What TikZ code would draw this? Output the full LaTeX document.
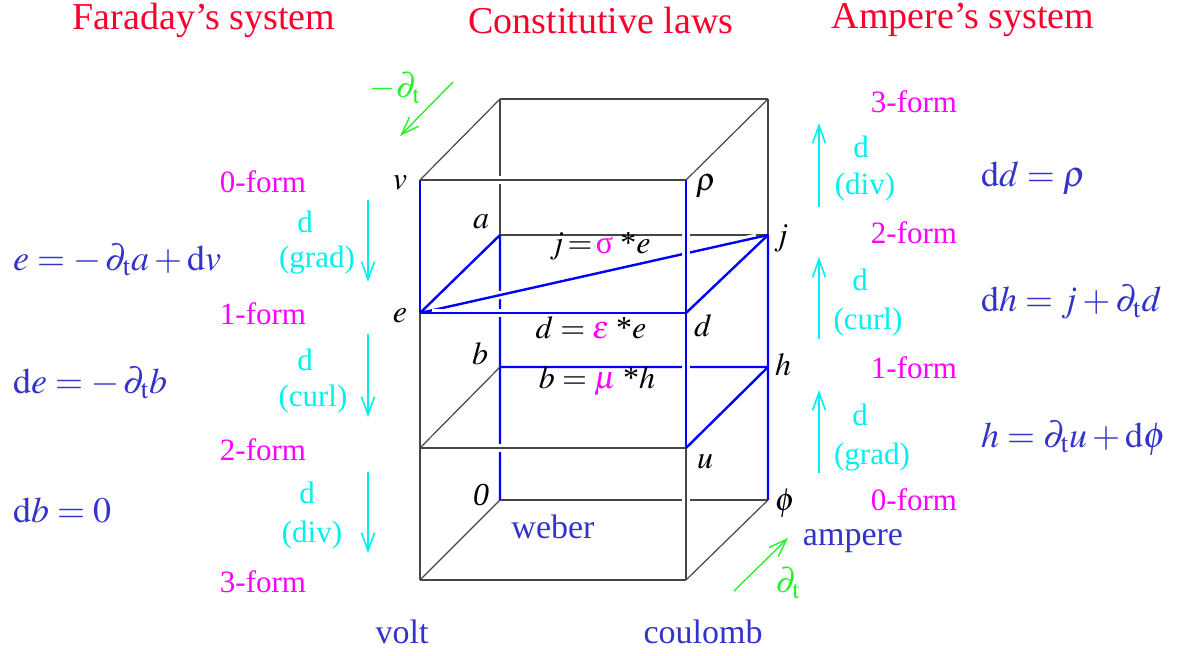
\documentclass[tikz,border=0pt]{standalone}
\usepackage{mathptmx}
\usepackage{fontspec}
\setmainfont{Liberation Serif}
\usetikzlibrary{arrows.meta}
\definecolor{eqblue}{RGB}{51,51,204}
\definecolor{lgreen}{RGB}{40,240,40}
\definecolor{edgegray}{RGB}{70,70,70}
\definecolor{titred}{RGB}{250,0,45}
\definecolor{opcyan}{RGB}{0,240,240}
\definecolor{formmag}{RGB}{255,0,255}
\newcommand{\pdt}{\partial_{\mathrm{t}}}

\begin{document}
\begin{tikzpicture}[x=0.5pt,y=-0.5pt,
    titulo/.style={text=titred,font=\fontsize{19}{22}\selectfont},
    forma/.style={text=formmag,font=\fontsize{15.5}{18}\selectfont},
    oper/.style={text=opcyan,font=\fontsize{15.5}{18}\selectfont},
    ecuacion/.style={text=eqblue,font=\fontsize{18}{21}\selectfont,anchor=west},
    unidad/.style={text=eqblue,font=\fontsize{17}{20}\selectfont},
    vertice/.style={font=\fontsize{16}{19}\selectfont},
    arista/.style={edgegray,line width=0.6pt},
    campo/.style={blue,line width=1.2pt},
    delante/.style={preaction={draw=white,line width=4pt,shorten <=6pt,shorten >=6pt}},
    flecha/.style={opcyan,line width=0.8pt,-{Straight Barb[length=9pt,width=6.5pt]}},
    tiempo/.style={lgreen,line width=0.7pt,-{Straight Barb[length=9pt,width=6.5pt]}}]
    \useasboundingbox (0,0) rectangle (1178,655);

    % corners of the box
    \coordinate (v) at (420,180);   \coordinate (rho) at (686,180);
    \coordinate (e) at (420,313);   \coordinate (d) at (686,313);
    \coordinate (fl) at (420,448);  \coordinate (u) at (686,448);
    \coordinate (fb) at (420,580);  \coordinate (rb) at (686,580);
    \coordinate (tl) at (500,99);   \coordinate (tr) at (768,99);
    \coordinate (a) at (500,235);   \coordinate (j) at (768,235);
    \coordinate (b) at (500,367);   \coordinate (h) at (768,367);
    \coordinate (o) at (500,500);   \coordinate (phi) at (768,500);

    % titles
    \node[titulo] (tfar) at (204,20) {Faraday’s system};
    \node[titulo] (tcon) at (601,20) {Constitutive laws};
    \node[titulo] (tamp) at (963,20) {Ampere’s system};

    % back edges
    \draw[arista] (tl) -- (tr) (tl) -- (a) (tr) -- (j) (a) -- (j) (o) -- (phi);
    \draw[arista] (v) -- (tl) (rho) -- (tr) (fl) -- (b) (fb) -- (o) (rb) -- (phi);
    \draw[campo] (a) -- (b) (b) -- (o) (b) -- (h) (j) -- (phi) (e) -- (a);
    \draw[campo,delante] (e) -- (j);
    % front edges
    \draw[campo] (v) -- (e);
    \draw[arista] (e) -- (fb) (fb) -- (rb);
    \draw[campo,delante] (rho) -- (u);
    \draw[arista,delante] (u) -- (rb);
    \draw[arista,delante] (v) -- (rho);
    \draw[campo,delante] (e) -- (d);
    \draw[arista,delante] (fl) -- (u);
    \draw[campo] (d) -- (j) (h) -- (u);

    % vertex labels
    \node[vertice] (lv) at (400,183) {$v$};
    \node[vertice] (lrho) at (706,186) {$\rho$};
    \node[vertice] (la) at (481,222) {$a$};
    \node[vertice] (lj) at (781,238) {$j$};
    \node[vertice] (le) at (400,316) {$e$};
    \node[vertice] (ld) at (703,326) {$d$};
    \node[vertice] (lb) at (480,354) {$b$};
    \node[vertice] (lh) at (783,365) {$h$};
    \node[vertice] (lu) at (705,462) {$u$};
    \node[vertice] (lo) at (481,495) {\textit{0}};
    \node[vertice] (lphi) at (785,503) {$\phi$};

    % constitutive laws
    \node[vertice] (sig) at (600,246) {$j\!=\!{\color{formmag}\mbox{σ}}\;\mbox{*}e$};
    \node[vertice] (eps) at (591,328) {$d = {\color{formmag}\varepsilon}\;\mbox{*}e$};
    \node[vertice] (mu) at (597,381) {$b = {\color{formmag}\mu}\;\mbox{*}h$};

    % units
    \node[unidad] (weber) at (553,527) {weber};
    \node[unidad] (volt) at (402,632) {volt};
    \node[unidad] (coulomb) at (703,632) {coulomb};
    \node[unidad] (ampere) at (853,541) {ampere};

    % time derivatives
    \coordinate (g1) at (453,82);  \coordinate (g2) at (400,136);
    \coordinate (g3) at (734,591); \coordinate (g4) at (788,538);
    \draw[tiempo] (g1) -- (g2);
    \draw[tiempo] (g3) -- (g4);
    \node[text=lgreen,font=\fontsize{17}{20}\selectfont] (mdt) at (395,88) {$-\pdt$};
    \node[text=lgreen,font=\fontsize{17}{20}\selectfont] (pdt) at (788,583) {$\pdt$};

    % Faraday side
    \foreach \y/\k in {182/0,314/1,450/2,582/3}
        \node[forma] (fl\k) at (263,\y) {\k-form};
    \coordinate (fa1) at (368,200); \coordinate (fb1) at (368,282);
    \coordinate (fa2) at (368,334); \coordinate (fb2) at (368,417);
    \coordinate (fa3) at (368,472); \coordinate (fb3) at (368,553);
    \draw[flecha] (fa1) -- (fb1);
    \draw[flecha] (fa2) -- (fb2);
    \draw[flecha] (fa3) -- (fb3);
    \node[oper] (fd1) at (305,222) {d};
    \node[oper] (fo1) at (317,260) {(grad)};
    \node[oper] (fd2) at (305,360) {d};
    \node[oper] (fo2) at (313,399) {(curl)};
    \node[oper] (fd3) at (307,493) {d};
    \node[oper] (fo3) at (312,535) {(div)};
    \node[ecuacion] (e1) at (6,260) {$e = -\,\pdt a + \mathrm{d}v$};
    \node[ecuacion] (e2) at (6,383) {$\mathrm{d}e = -\,\pdt b$};
    \node[ecuacion] (e3) at (6,510) {$\mathrm{d}b = 0$};

    % Ampere side
    \foreach \y/\k in {102/3,233/2,368/1,500/0}
        \node[forma] (al\k) at (914,\y) {\k-form};
    \coordinate (aa1) at (819,207); \coordinate (ab1) at (819,123);
    \coordinate (aa2) at (819,339); \coordinate (ab2) at (819,257);
    \coordinate (aa3) at (819,473); \coordinate (ab3) at (819,390);
    \draw[flecha] (aa1) -- (ab1);
    \draw[flecha] (aa2) -- (ab2);
    \draw[flecha] (aa3) -- (ab3);
    \node[oper] (ad1) at (861,147) {d};
    \node[oper] (ao1) at (865,187) {(div)};
    \node[oper] (ad2) at (860,280) {d};
    \node[oper] (ao2) at (868,322) {(curl)};
    \node[oper] (ad3) at (860,415) {d};
    \node[oper] (ao3) at (872,457) {(grad)};
    \node[ecuacion] (e4) at (974,178) {$\mathrm{d}d = \rho$};
    \node[ecuacion] (e5) at (974,302) {$\mathrm{d}h = j + \pdt d$};
    \node[ecuacion] (e6) at (974,438) {$h = \pdt u + \mathrm{d}\phi$};
\end{tikzpicture}
\end{document}
